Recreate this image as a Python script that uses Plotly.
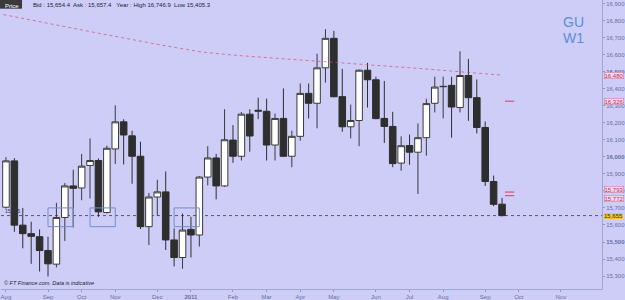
import pandas as pd
import plotly.graph_objects as go

# ---- data (GBP/USD weekly, prices x10000) ----
opens  = [15704,15976,15599,15549,15531,15450,15370,15644,15829,15817,
          15949,15978,15673,16046,16205,16123,16003,15590,15764,15794,
          15512,15409,15574,15541,15881,15993,15829,16098,16003,16250,
          16273,16267,16069,16225,16003,16120,16372,16314,16522,16695,
          16353,16176,16213,16508,16452,16225,16178,15963,16066,16027,
          16112,16314,16411,16419,16289,16477,16347,16172,15855,15722]
highs  = [15998,15992,15700,15619,15574,15531,15730,15846,15924,16017,
          16108,15990,16065,16302,16220,16153,16088,15788,15865,15914,
          15580,15667,15648,15887,16062,16017,16279,16186,16263,16279,
          16347,16341,16254,16401,16153,16430,16430,16605,16749,16739,
          16516,16306,16512,16551,16470,16445,16264,16120,16130,16196,
          16341,16470,16470,16470,16619,16574,16454,16207,15890,15759]
lows   = [15696,15560,15463,15372,15327,15298,15351,15506,15586,15745,
          15755,15648,15667,15958,15955,15842,15576,15482,15654,15453,
          15357,15343,15409,15473,15832,15750,15823,15964,15978,16030,
          16221,15978,15978,16000,15939,16094,16225,16167,16435,16350,
          16147,16108,16062,16289,16220,16081,15939,15918,15953,15782,
          16007,16260,16225,16112,16260,16211,16137,15829,15710,15650]
closes = [15976,15599,15549,15533,15450,15372,15644,15829,15815,15945,
          15978,15677,16050,16205,16128,16003,15590,15764,15794,15512,
          15409,15570,15541,15881,15993,15829,16100,16003,16250,16122,
          16268,16069,16225,16003,16120,16372,16314,16522,16695,16352,
          16176,16213,16508,16452,16224,16178,15960,16065,16027,16112,
          16312,16409,16413,16292,16477,16347,16172,15855,15721,15655]
# long moving average (starts one week before first candle)
ma_values = [16841,
             16831,16822,16812,16802,16793,16783,16774,16764,16755,16745,
             16735,16725,16716,16706,16697,16688,16678,16669,16660,16651,
             16642,16633,16625,16617,16611,16605,16601,16597,16593,16589,
             16586,16582,16579,16575,16572,16568,16565,16561,16558,16554,
             16551,16547,16544,16540,16537,16533,16530,16526,16523,16519,
             16514,16510,16506,16502,16498,16494,16490,16486,16482,16479]

first_week = "2010-08-02"
month_labels = ["Aug", "Sep", "Oct", "Nov", "Dec", "<b>2011</b>", "Feb", "Mar",
                "Apr", "May", "Jun", "Jul", "Aug", "Sep", "Oct", "Nov"]
ytick_values = list(range(15300, 16901, 100))
ytick_labels = [("<b>%s</b>" if v % 500 == 0 else "%s") % f"{v:,}" for v in ytick_values]

last_price = 15655
ma_label = "16,480"
level_values = [16326, 15793, 15772]
level_label_shift = [0, 3, -3]
zone_start_weeks = [5, 10, 20]
zone_end_weeks = [8, 13, 23]
zone_low, zone_high = 15590, 15700

header_text = "Bid : 15,654.4  Ask : 15,657.4   Year : High 16,746.9  Low 15,405.3"
footer_text = "© FT Finance.com. Data is indicative"

# ---- derived dates ----
weeks = pd.date_range(first_week, periods=len(opens), freq="W-MON")
ma_weeks = pd.date_range(weeks[0] - pd.Timedelta(days=7), periods=len(ma_values), freq="W-MON")
all_mondays = pd.date_range(first_week, "2011-11-30", freq="W-MON")
month_firsts = pd.Series(all_mondays).groupby(all_mondays.to_period("M")).first().tolist()
wk = pd.Timedelta(days=7)

def at_week(w):
    return weeks[0] + wk * w

BG = "#CDCDF8"
FONT = "Liberation Sans, Arial, sans-serif"

fig = go.Figure()

fig.add_trace(go.Scatter(
    x=ma_weeks, y=ma_values, mode="lines",
    line=dict(color="rgba(200,90,110,0.75)", width=1, dash="dot"),
    hoverinfo="skip", showlegend=False))

fig.add_trace(go.Candlestick(
    x=weeks, open=opens, high=highs, low=lows, close=closes,
    increasing=dict(fillcolor="#FFFFFF", line=dict(color="#3a3a3a", width=1)),
    decreasing=dict(fillcolor="#2E2E2E", line=dict(color="#2E2E2E", width=1)),
    whiskerwidth=0, showlegend=False))

shapes = []
# current price dotted line
shapes.append(dict(type="line", xref="paper", x0=0, x1=1, yref="y", y0=last_price, y1=last_price,
                   line=dict(color="#555566", width=1, dash="dot"), layer="below"))
# blue zones
for s, e in zip(zone_start_weeks, zone_end_weeks):
    shapes.append(dict(type="rect", xref="x", yref="y", x0=at_week(s), x1=at_week(e),
                       y0=zone_low, y1=zone_high, line=dict(color="#6F90C8", width=1),
                       fillcolor="rgba(0,0,0,0)"))
# level dashes after last candle
for lv in level_values:
    shapes.append(dict(type="line", xref="x", yref="y",
                       x0=at_week(len(opens) - 1 + 0.35), x1=at_week(len(opens) - 1 + 1.45),
                       y0=lv, y1=lv, line=dict(color="#C85A78", width=1.2)))
# header dark box
shapes.append(dict(type="rect", xref="paper", yref="paper", x0=-0.002, x1=0.035, y0=0.97, y1=1.0,
                   fillcolor="#3A3A3A", line=dict(width=0)))

annotations = [
    dict(text="Price", xref="paper", yref="paper", x=0.003, y=0.997, xanchor="left", yanchor="top",
         showarrow=False, font=dict(size=6, color="#FFFFFF", family=FONT)),
    dict(text=header_text, xref="paper", yref="paper", x=0.05, y=0.999, xanchor="left", yanchor="top",
         showarrow=False, font=dict(size=6, color="#222233", family=FONT)),
    dict(text="<i>" + footer_text + "</i>", xref="paper", yref="paper", x=0.002, y=0.003,
         xanchor="left", yanchor="bottom", showarrow=False, font=dict(size=5.5, color="#222233", family=FONT)),
    dict(text="GU", xref="paper", yref="paper", x=0.952, y=0.925, xanchor="center", yanchor="middle",
         showarrow=False, font=dict(size=14, color="#5E8ED6", family=FONT)),
    dict(text="W1", xref="paper", yref="paper", x=0.952, y=0.87, xanchor="center", yanchor="middle",
         showarrow=False, font=dict(size=14, color="#5E8ED6", family=FONT)),
    dict(text=f"{last_price:,}", xref="paper", yref="y", x=0.003, y=last_price, xanchor="left",
         yanchor="bottom", showarrow=False, font=dict(size=5, color="#333344", family=FONT)),
    dict(text=ma_label, xref="paper", yref="y", x=1.004, y=ma_values[-1], xanchor="left", yanchor="middle",
         showarrow=False, font=dict(size=6, color="#C03050", family=FONT),
         bgcolor="#F0D8F0", bordercolor="#C87090", borderwidth=0.5, borderpad=0),
]
for lv, sh in zip(level_values, level_label_shift):
    annotations.append(dict(text=f"{lv:,}", xref="paper", yref="y", x=1.004, y=lv, xanchor="left",
                            yanchor="middle", yshift=sh, showarrow=False,
                            font=dict(size=6, color="#C03050", family=FONT),
                            bgcolor="#F0D8F0", bordercolor="#C87090", borderwidth=0.5, borderpad=0))
annotations.append(dict(text=f"{last_price:,}", xref="paper", yref="y", x=1.004, y=last_price,
                        xanchor="left", yanchor="middle", showarrow=False,
                        font=dict(size=6, color="#333333", family=FONT),
                        bgcolor="#F2C43C", borderwidth=0, borderpad=0))

fig.update_layout(
    width=625, height=300,
    margin=dict(l=1, r=20, t=0, b=9),
    paper_bgcolor=BG, plot_bgcolor=BG,
    boxgap=0.22, boxgroupgap=0,
    showlegend=False,
    shapes=shapes, annotations=annotations,
    font=dict(family=FONT),
    xaxis=dict(
        range=[weeks[0] - wk * 0.59, weeks[0] + wk * 70.89],
        rangeslider=dict(visible=False),
        tickvals=month_firsts[:len(month_labels)], ticktext=month_labels,
        tickfont=dict(size=6, color="#6870A0"),
        ticks="outside", ticklen=2, tickcolor="#9098C0",
        showgrid=False, zeroline=False,
        showline=True, linecolor="#A0A8D0", linewidth=1,
    ),
    yaxis=dict(
        side="right", range=[15224.2, 16920.0],
        tickvals=ytick_values, ticktext=ytick_labels,
        tickfont=dict(size=6, color="#6870A0"),
        ticks="outside", ticklen=2, tickcolor="#9098C0",
        showgrid=False, zeroline=False,
        showline=True, linecolor="#A0A8D0", linewidth=1,
    ),
)

fig.write_html("out.html")
